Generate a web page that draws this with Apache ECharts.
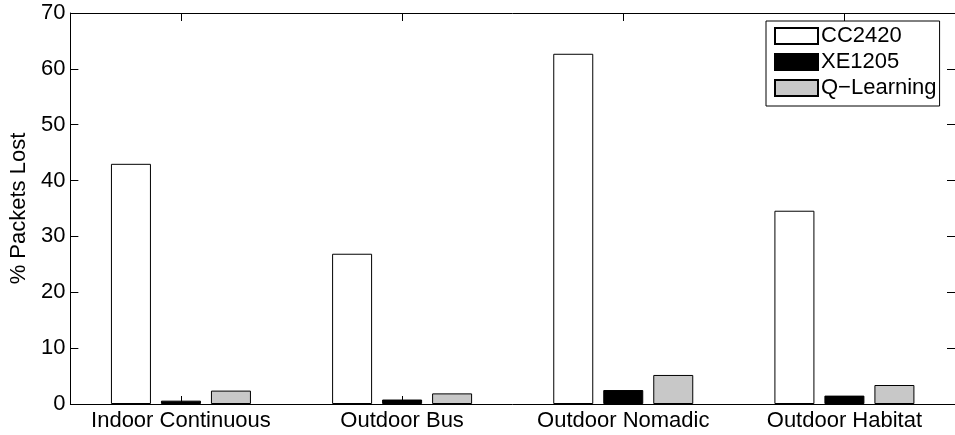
<!DOCTYPE html>
<html>
<head>
<meta charset="utf-8">
<script src="https://cdn.jsdelivr.net/npm/echarts@6/dist/echarts.min.js"></script>
<style>
html,body{margin:0;padding:0;background:#fff;}
#chart{width:955px;height:435px;}
</style>
</head>
<body>
<div id="chart"></div>
<script>
var categories = ['Indoor Continuous', 'Outdoor Bus', 'Outdoor Nomadic', 'Outdoor Habitat'];
var cc2420 = [43.0, 26.9, 62.7, 34.6];
var xe1205 = [0.6, 0.8, 2.5, 1.5];
var qlearning = [2.4, 1.9, 5.2, 3.4];
var yTicks = [0, 10, 20, 30, 40, 50, 60, 70];

var FONT = "'Liberation Sans', Arial, Helvetica, sans-serif";
var chart = echarts.init(document.getElementById('chart'));
var tickStyle = {show: true, inside: true, length: 8, lineStyle: {color: '#000', width: 1}};
var lineStyle = {show: true, onZero: false, lineStyle: {color: '#000', width: 1}};
chart.setOption({
  animation: false,
  backgroundColor: '#fff',
  textStyle: {fontFamily: FONT, color: '#000'},
  grid: {left: 69, top: 13, width: 892, height: 391, containLabel: false},
  legend: {
    orient: 'vertical', left: 766, top: 21, icon: 'rect',
    backgroundColor: '#fff', borderColor: '#000', borderWidth: 1, borderRadius: 0,
    padding: [4, 3, 7, 8], itemGap: 4, itemWidth: 43, itemHeight: 16,
    textStyle: {fontFamily: FONT, fontSize: 22, color: '#000', padding: [0, 0, 0, -2]},
    data: ['CC2420', 'XE1205', 'Q\u2212Learning']
  },
  xAxis: [{
    type: 'category', data: categories, position: 'bottom',
    axisLine: lineStyle, axisTick: Object.assign({alignWithLabel: true}, tickStyle),
    axisLabel: {fontFamily: FONT, fontSize: 22, color: '#000', margin: 6, interval: 0},
    splitLine: {show: false}
  }, {
    type: 'category', data: categories, position: 'top',
    axisLine: lineStyle, axisTick: Object.assign({alignWithLabel: true}, tickStyle),
    axisLabel: {show: false}, splitLine: {show: false}
  }],
  yAxis: [{
    type: 'value', min: 0, max: 70, interval: 10, position: 'left',
    name: '% Packets Lost', nameLocation: 'middle', nameGap: 40, nameRotate: 90,
    nameTextStyle: {fontFamily: FONT, fontSize: 22, color: '#000'},
    axisLine: lineStyle, axisTick: tickStyle,
    axisLabel: {fontFamily: FONT, fontSize: 22, color: '#000', margin: 5,
      formatter: function (v) { return yTicks.indexOf(v) >= 0 ? String(v) : ''; }},
    splitLine: {show: false}
  }, {
    type: 'value', min: 0, max: 70, interval: 10, position: 'right',
    axisLine: lineStyle, axisTick: tickStyle, axisLabel: {show: false}, splitLine: {show: false}
  }],
  series: [{
    name: 'CC2420', type: 'bar', data: cc2420, barWidth: 40, barGap: '25%',
    itemStyle: {color: '#fff', borderColor: '#000', borderWidth: 1}
  }, {
    name: 'XE1205', type: 'bar', data: xe1205, barWidth: 40, barGap: '25%',
    itemStyle: {color: '#000', borderColor: '#000', borderWidth: 1}
  }, {
    name: 'Q\u2212Learning', type: 'bar', data: qlearning, barWidth: 40, barGap: '25%',
    itemStyle: {color: '#c8c8c8', borderColor: '#000', borderWidth: 1}
  }]
});
</script>
</body>
</html>
